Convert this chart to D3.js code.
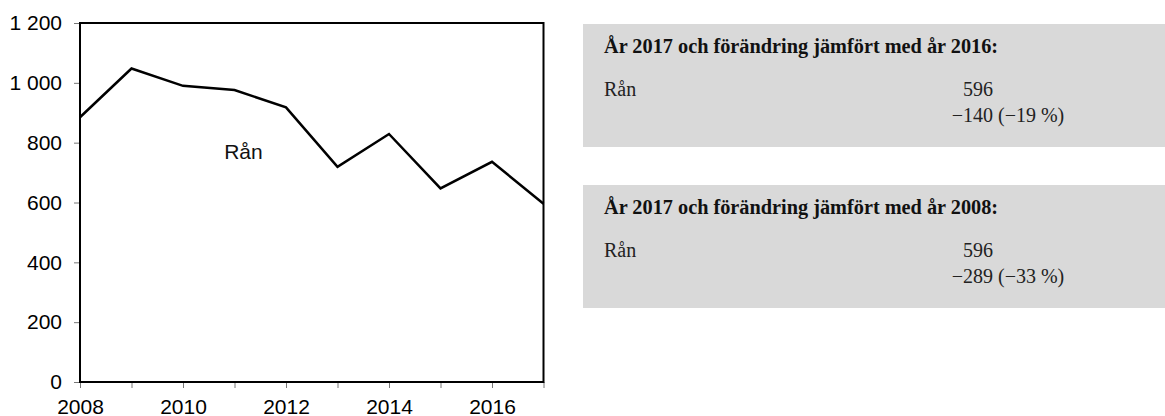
<!DOCTYPE html>
<html>
<head>
<meta charset="utf-8">
<script src="https://cdn.jsdelivr.net/npm/d3@7"></script>
<style>
  html, body { margin: 0; padding: 0; background: #fff; }
  svg { display: block; }
</style>
</head>
<body>
<svg id="chart" width="1165" height="416"></svg>
<script>
// ---- Data ----
const years = [2008, 2009, 2010, 2011, 2012, 2013, 2014, 2015, 2016, 2017];
const ranValues = [885, 1048, 990, 976, 918, 719, 829, 647, 736, 596];
const yTicks = [0, 200, 400, 600, 800, 1000, 1200];
const xTickLabels = [2008, 2010, 2012, 2014, 2016];
const seriesLabel = "Rån";
const seriesLabelAt = [2010.8, 745];

const boxTitles = ["År 2017 och förändring jämfört med år 2016:", "År 2017 och förändring jämfört med år 2008:"];
const boxRowLabels = ["Rån", "Rån"];
const boxValues = ["596", "596"];
const boxChanges = ["−140", "−289"];
const boxPercents = ["(−19 %)", "(−33 %)"];

// ---- Layout ----
const svg = d3.select("#chart");
const mLeft = 80, mRight = 543.5, mTop = 23, mBottom = 382;

const x = d3.scaleLinear().domain([2008, 2017]).range([mLeft, mRight]);
const y = d3.scaleLinear().domain([0, 1200]).range([mBottom, mTop]);

const sans = "'Liberation Sans', Arial, sans-serif";
const serif = "'Liberation Serif', 'Times New Roman', serif";
const fs = 21;

// y axis
const yAxis = d3.axisLeft(y).tickValues(yTicks).tickSize(6).tickPadding(12)
  .tickFormat(d => d3.format(",")(d).replace(/,/g, " "));
const gy = svg.append("g").attr("transform", `translate(${mLeft},0)`).call(yAxis);
gy.select(".domain").remove();
gy.selectAll(".tick line").attr("stroke", "#777").attr("stroke-width", 1);
gy.selectAll(".tick text").attr("font-family", sans).attr("font-size", fs).attr("fill", "#000");

// x axis
const xAxis = d3.axisBottom(x).tickValues(years).tickSize(6).tickPadding(11)
  .tickFormat(d => xTickLabels.includes(d) ? String(d) : "");
const gx = svg.append("g").attr("transform", `translate(0,${mBottom})`).call(xAxis);
gx.select(".domain").remove();
gx.selectAll(".tick line").attr("stroke", "#777").attr("stroke-width", 1);
gx.selectAll(".tick text").attr("font-family", sans).attr("font-size", fs).attr("fill", "#000");

// frame
svg.append("rect")
  .attr("x", x(2008)).attr("y", y(1200))
  .attr("width", x(2017) - x(2008)).attr("height", y(0) - y(1200))
  .attr("fill", "none").attr("stroke", "#000").attr("stroke-width", 2);

// line
const line = d3.line().x((d, i) => x(years[i])).y(d => y(d));
svg.append("path").datum(ranValues)
  .attr("d", line).attr("fill", "none").attr("stroke", "#000")
  .attr("stroke-width", 2.5).attr("stroke-linejoin", "miter");

svg.append("text")
  .attr("x", x(seriesLabelAt[0])).attr("y", y(seriesLabelAt[1]))
  .attr("font-family", sans).attr("font-size", fs).attr("fill", "#111")
  .text(seriesLabel);

// ---- Info boxes ----
const boxX = 583, boxW = 1165 - 583, boxH = 123;
const boxTops = [24, 185];
const bodySize = 20;
boxTops.forEach((bt, i) => {
  const g = svg.append("g").attr("transform", `translate(${boxX},${bt})`);
  g.append("rect").attr("width", boxW).attr("height", boxH).attr("fill", "#d9d9d9");
  g.append("text").attr("x", 21).attr("y", 29)
    .attr("font-family", serif).attr("font-weight", "bold").attr("font-size", 20.3)
    .attr("fill", "#111").text(boxTitles[i]);
  g.append("text").attr("x", 21).attr("y", 72)
    .attr("font-family", serif).attr("font-size", bodySize).attr("fill", "#222").text(boxRowLabels[i]);
  g.append("text").attr("x", 410).attr("y", 72).attr("text-anchor", "end")
    .attr("font-family", serif).attr("font-size", bodySize).attr("fill", "#222").text(boxValues[i]);
  g.append("text").attr("x", 410).attr("y", 98).attr("text-anchor", "end")
    .attr("font-family", serif).attr("font-size", bodySize).attr("fill", "#222").text(boxChanges[i]);
  g.append("text").attr("x", 415).attr("y", 98)
    .attr("font-family", serif).attr("font-size", bodySize).attr("fill", "#222").text(boxPercents[i]);
});
</script>
</body>
</html>
